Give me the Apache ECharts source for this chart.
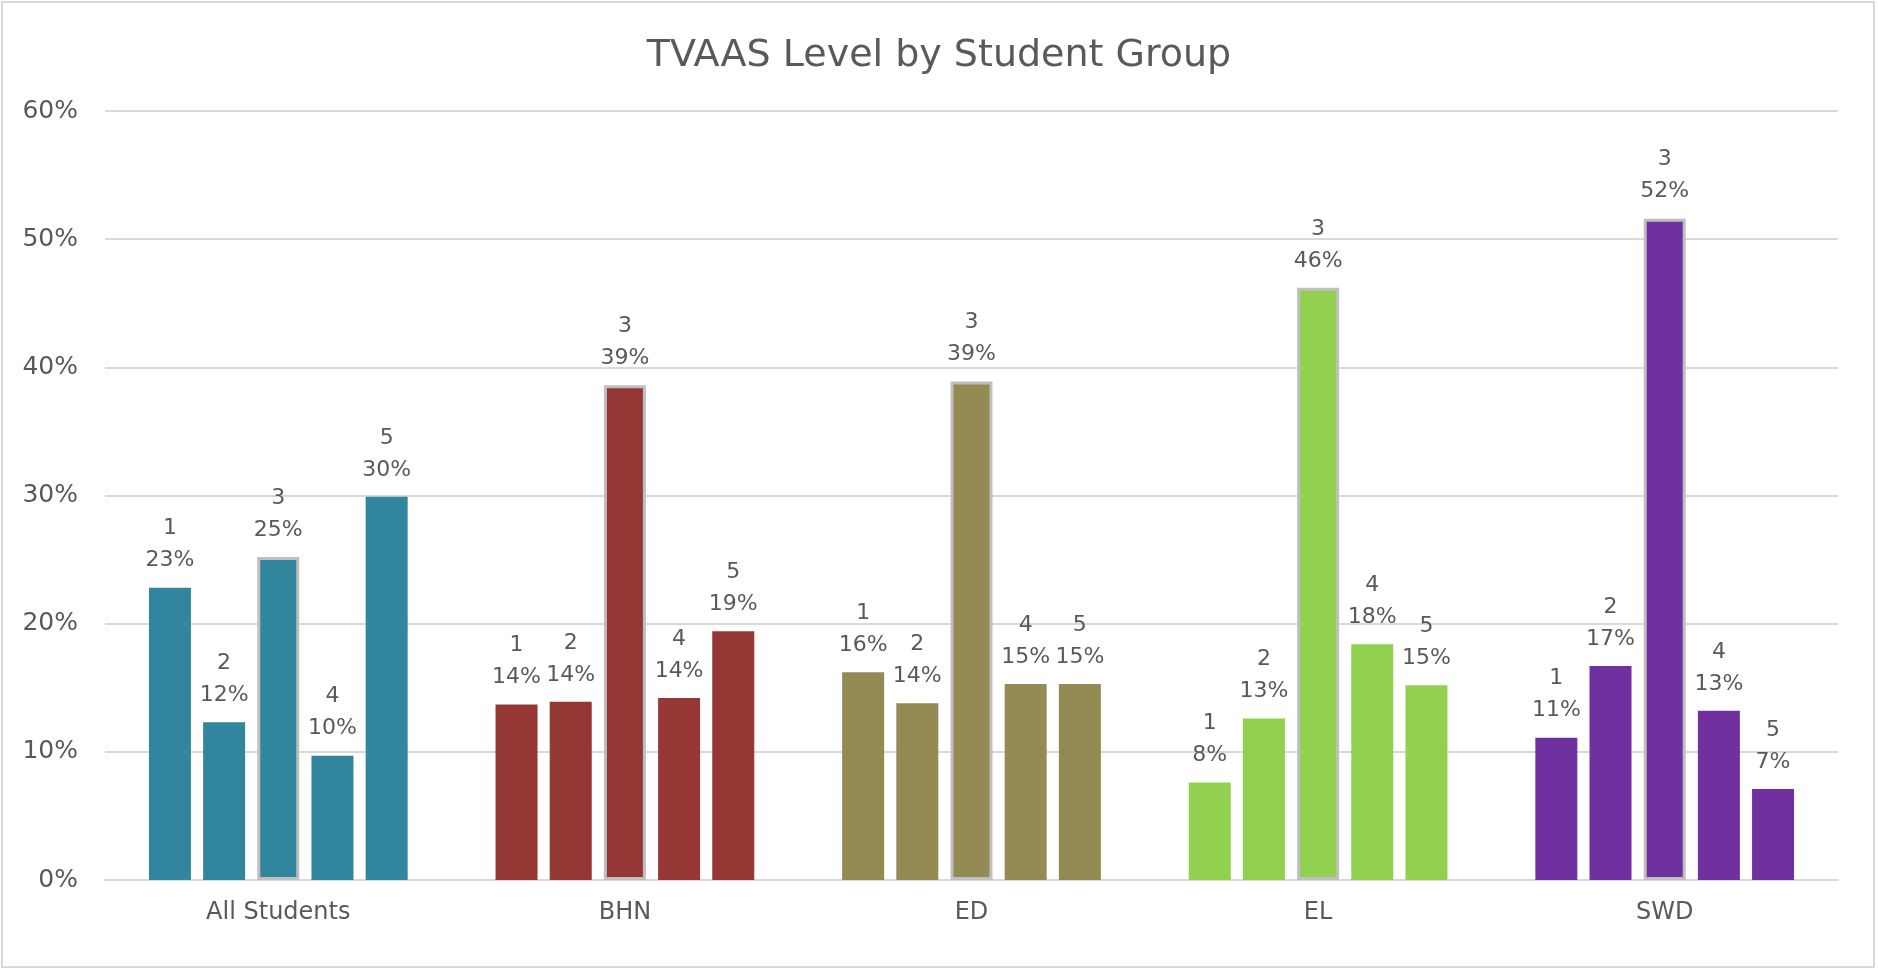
<!DOCTYPE html>
<html>
<head>
    <meta http-equiv="Content-Type" content="text/html; charset=UTF-8">
    <script type="text/javascript" src="https://cdn.jsdelivr.net/npm/echarts@6/dist/echarts.min.js" charset="utf-8"></script>
    <style>
        html, body { margin: 0; padding: 0; background: #fff; }
    </style>
</head>
<body>
<div id="main" style="width: 1878px;height:969px;"></div>
<script>
	// student groups and their bar colours
	var groups = ['All Students', 'BHN', 'ED', 'EL', 'SWD'];
	var groupColors = ['#31859c', '#953735', '#948a54', '#92d050', '#7030a0'];
	// TVAAS levels, one series each
	var levels = ['1', '2', '3', '4', '5'];
	var level1 = [22.8, 13.7, 16.2, 7.6, 11.1];
	var level2 = [12.3, 13.9, 13.8, 12.6, 16.7];
	var level3 = [25.2, 38.6, 38.9, 46.2, 51.6];
	var level4 = [9.7, 14.2, 15.3, 18.4, 13.2];
	var level5 = [29.9, 19.4, 15.3, 15.2, 7.1];
	var yTicks = [0, 10, 20, 30, 40, 50, 60];

	var levelData = [level1, level2, level3, level4, level5];
	var font = 'DejaVu Sans';

	var series = [];
	for (var i = 0; i < levels.length; i++) {
		var isMid = (levels[i] == '3');
		series.push({
			name: levels[i],
			type: 'bar',
			barWidth: 42,
			barGap: '29%',
			data: levelData[i],
			itemStyle: {
				color: function(p) { return groupColors[p.dataIndex]; },
				borderColor: isMid ? '#bfbfbf' : 'transparent',
				borderWidth: isMid ? 3 : 0
			},
			label: {
				show: true,
				position: 'top',
				distance: 11,
				color: '#595959',
				fontFamily: font,
				fontSize: 22,
				lineHeight: 32,
				formatter: function(p) {
					return p.seriesName + '\n' + Math.round(p.value) + '%';
				}
			}
		});
	}

	var myChart = echarts.init(document.getElementById('main'));
	myChart.setOption({
		animation: false,
		backgroundColor: '#fff',
		title: {
			text: 'TVAAS Level by Student Group',
			left: 'center',
			top: 30,
			textStyle: {
				fontFamily: font,
				fontSize: 38,
				fontWeight: 'normal',
				color: '#595959',
				lineHeight: 42
			}
		},
		graphic: [{
			type: 'rect',
			shape: { x: 2, y: 2, width: 1872, height: 965 },
			style: { fill: 'none', stroke: '#d9d9d9', lineWidth: 2 },
			silent: true
		}],
		grid: {
			left: 105,
			right: 40,
			top: 111,
			bottom: 89
		},
		xAxis: {
			type: 'category',
			data: groups,
			axisTick: { show: false },
			axisLine: { lineStyle: { color: '#d9d9d9', width: 2 } },
			axisLabel: {
				color: '#595959',
				fontFamily: font,
				fontSize: 24,
				margin: 21
			}
		},
		yAxis: {
			type: 'value',
			min: yTicks[0],
			max: yTicks[yTicks.length - 1],
			interval: 10,
			axisLine: { show: false },
			axisTick: { show: false },
			splitLine: { lineStyle: { color: '#d9d9d9', width: 2 } },
			axisLabel: {
				color: '#595959',
				fontFamily: font,
				fontSize: 25,
				margin: 27,
				formatter: '{value}%'
			}
		},
		series: series
	});
</script>
</body>
</html>
